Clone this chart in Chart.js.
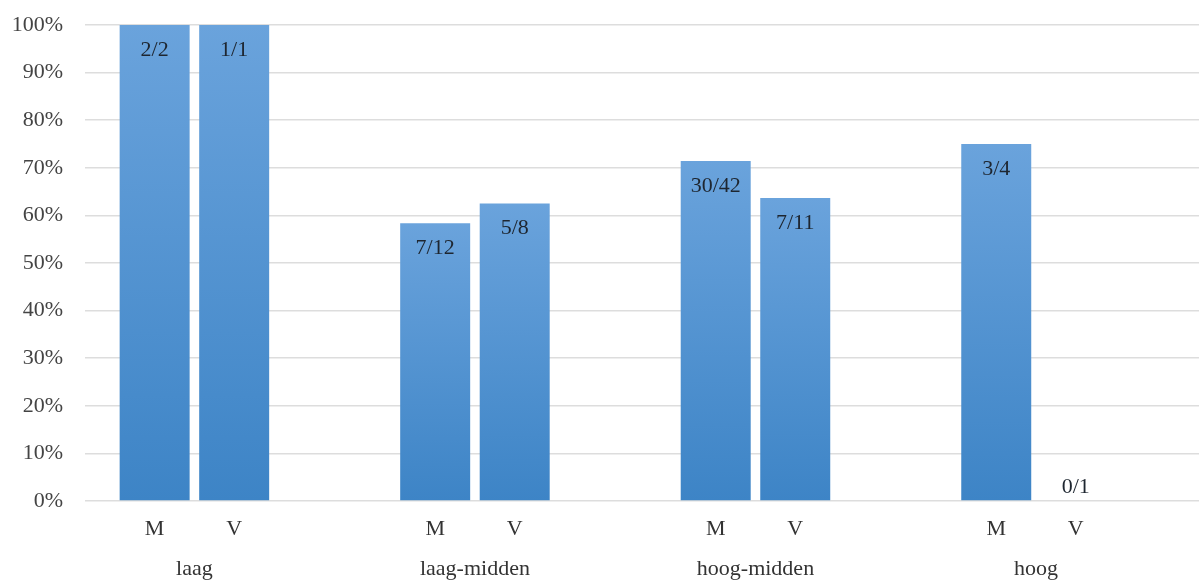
<!DOCTYPE html>
<html>
<head>
<meta charset="utf-8">
<script src="https://cdn.jsdelivr.net/npm/chart.js@4.4.1/dist/chart.umd.min.js"></script>
<style>
  html, body { margin: 0; padding: 0; background: #fff; }
  #wrap { width: 1199px; height: 581px; }
</style>
</head>
<body>
<div id="wrap"><canvas id="grafiek" width="1199" height="581"></canvas></div>
<script>
// groepen op de x-as en de twee balken per groep
const groepen = ['laag', 'laag-midden', 'hoog-midden', 'hoog'];
const reeksen = ['M', 'V'];

// tellers / noemers per groep (M en V)
const tellerM = [2, 7, 30, 3];
const noemerM = [2, 12, 42, 4];
const tellerV = [1, 5, 7, 0];
const noemerV = [1, 8, 11, 1];

const yTicks = [0, 10, 20, 30, 40, 50, 60, 70, 80, 90, 100];

const FONT = "'Liberation Serif', 'Times New Roman', serif";

function procent(t, n) { return t / n * 100; }

const dataM = tellerM.map((t, i) => ({ x: i, y: procent(t, noemerM[i]) }));
const dataV = tellerV.map((t, i) => ({ x: i, y: procent(t, noemerV[i]) }));
const breuken = [
  tellerM.map((t, i) => t + '/' + noemerM[i]),
  tellerV.map((t, i) => t + '/' + noemerV[i])
];

// verloop per balk: licht boven, donkerder onder
function balkKleur(ctx) {
  const chart = ctx.chart;
  if (!chart.chartArea || !ctx.parsed) return '#5b9bd5';
  const y = chart.scales.y;
  const top = y.getPixelForValue(ctx.parsed.y);
  const bot = y.getPixelForValue(0);
  if (bot - top < 1) return '#5b9bd5';
  const g = chart.ctx.createLinearGradient(0, top, 0, bot);
  g.addColorStop(0, '#6aa3dc');
  g.addColorStop(1, '#3d84c6');
  return g;
}

// labels: breuk in de balk, M/V eronder, groepsnaam daaronder
const labelsPlugin = {
  id: 'labels',
  afterDatasetsDraw(chart) {
    const c = chart.ctx;
    c.save();
    c.textAlign = 'center';
    c.textBaseline = 'middle';
    c.font = '22px ' + FONT;
    chart.data.datasets.forEach((ds, d) => {
      chart.getDatasetMeta(d).data.forEach((bar, i) => {
        const val = ds.data[i].y;
        c.fillStyle = '#1e2630';
        const ty = val > 0 ? bar.y + 25 : bar.base - 14;
        c.fillText(breuken[d][i], bar.x, ty);
        c.fillStyle = '#333';
        c.fillText(reeksen[d], bar.x, 529);
      });
    });
    const x = chart.scales.x;
    c.fillStyle = '#333';
    groepen.forEach((g, i) => {
      c.fillText(g, x.getPixelForValue(i), 569);
    });
    c.restore();
  }
};

new Chart(document.getElementById('grafiek').getContext('2d'), {
  type: 'bar',
  data: {
    datasets: [
      { label: reeksen[0], data: dataM, backgroundColor: balkKleur },
      { label: reeksen[1], data: dataV, backgroundColor: balkKleur }
    ]
  },
  options: {
    responsive: false,
    animation: false,
    categoryPercentage: 0.567,
    barPercentage: 0.88,
    layout: { padding: { top: 25, bottom: 80, left: 0, right: 0 } },
    plugins: { legend: { display: false }, tooltip: { enabled: false } },
    scales: {
      x: {
        type: 'linear',
        display: false,
        min: -0.39,
        max: 3.581,
        offset: false,
        // één tick per groep, zodat de balkbreedte uit de groepsafstand volgt
        afterBuildTicks(scale) { scale.ticks = groepen.map((g, i) => ({ value: i })); }
      },
      y: {
        min: 0,
        max: 100,
        afterFit(scale) {
          scale.width = 85;
          scale.paddingTop = 0;
          scale.paddingBottom = 0;
        },
        afterBuildTicks(scale) { scale.ticks = yTicks.map(v => ({ value: v })); },
        border: { display: false },
        grid: { color: '#dddddd', lineWidth: 1.5, drawTicks: false },
        ticks: {
          padding: 22,
          color: '#444',
          font: { family: FONT, size: 22 },
          callback: v => v + '%'
        }
      }
    }
  },
  plugins: [labelsPlugin]
});
</script>
</body>
</html>
